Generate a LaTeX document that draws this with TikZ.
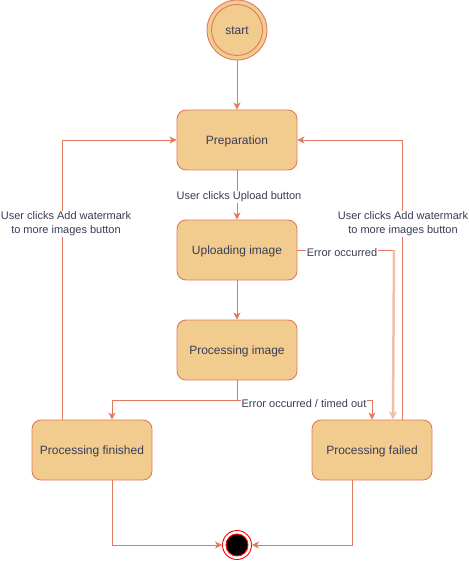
\documentclass[tikz,border=0pt]{standalone}
\usepackage{fontspec}
\setmainfont{Liberation Sans}
\usetikzlibrary{arrows.meta,calc}
\definecolor{boxfill}{HTML}{F2CC8F}
\definecolor{boxline}{HTML}{E07A5F}
\definecolor{txt}{HTML}{393C56}
\definecolor{lightline}{HTML}{F4BDAB}
\begin{document}
\begin{tikzpicture}[x=1pt,y=-1pt,
  state/.style={draw=boxline,fill=boxfill,rounded corners=9pt,minimum width=120pt,minimum height=60pt,
    inner sep=0pt,text=txt,font=\fontsize{12pt}{14pt}\selectfont,line width=0.9pt,text height=9.5pt,text depth=0.5pt},
  edge/.style={draw=boxline,line width=0.9pt,-{Stealth[length=7pt,width=7pt,inset=2pt]}},
  lbl/.style={fill=white,text=txt,inner sep=1pt,font=\fontsize{11pt}{14pt}\selectfont,align=center}]
\useasboundingbox (0,0) rectangle (468,561);
% start
\node[circle,draw=boxline,fill=boxfill,minimum size=60pt,inner sep=0pt,line width=0.9pt] (start) at (237,30) {};
\node[circle,draw=boxline,fill=boxfill,minimum size=51pt,inner sep=0pt,line width=0.9pt,text=txt,font=\fontsize{12pt}{14pt}\selectfont,text height=9.5pt,text depth=0.5pt] (startin) at (237,30) {start};
% states
\node[state] (prep) at (237,140) {Preparation};
\node[state] (upl) at (237,250) {Uploading image};
\node[state] (proc) at (237,350) {Processing image};
\node[state] (fin) at (92,450) {Processing finished};
\node[state] (fail) at (372,450) {Processing failed};
% end
\node[circle,draw=red,fill=white,minimum size=29pt,inner sep=0pt,line width=0.9pt] (stop) at (237,545) {};
\node[circle,draw=red,fill=black,minimum size=22pt,inner sep=0pt,line width=0.9pt] (stopin) at (237,545) {};
% edges
\draw[edge] (start) -- (prep);
\draw[edge] (prep) -- (upl);
\draw[edge] (upl) -- (proc);
\draw[draw=boxline,line width=0.9pt] (upl.east) -- (394,250) coordinate (ec);
\draw[draw=lightline,line width=2.5pt,-{Stealth[length=8pt,width=8pt,inset=2pt]}] (ec) -- ([xshift=21pt]fail.north);
\draw[edge] (proc.south) -- ++(0,20) -| ([xshift=20pt]fin.north);
\draw[edge] (proc.south) -- ++(0,20) -| (fail.north);
\draw[edge] ([xshift=-30pt]fin.north) |- (prep.west);
\draw[edge] ([xshift=30pt]fail.north) |- (prep.east);
\draw[edge] ([xshift=20pt]fin.south) |- (stop.west);
\draw[edge] ([xshift=-20pt]fail.south) |- (stop.east);
% labels
\node[lbl] (l1) at (239,197) {User clicks Upload button};
\node[lbl] (l2) at (342,253) {Error occurred};
\node[lbl] (l3) at (304,404) {Error occurred / timed out};
\node[lbl] (l4) at (66,224) {User clicks Add watermark\\to more images button};
\node[lbl] (l5) at (403,224) {User clicks Add watermark\\to more images button};
\end{tikzpicture}
\end{document}
